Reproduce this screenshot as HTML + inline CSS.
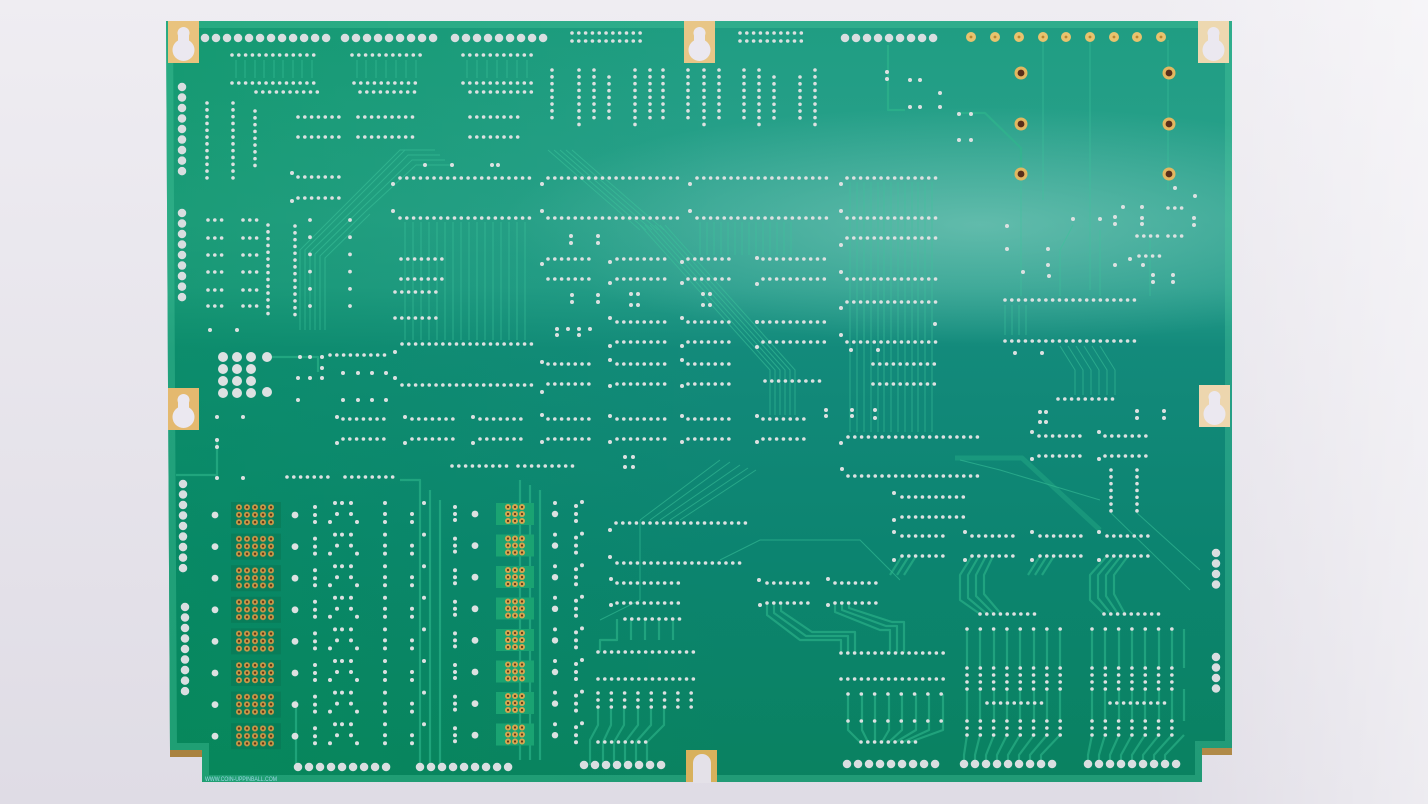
<!DOCTYPE html>
<html><head><meta charset="utf-8"><style>
html,body{margin:0;padding:0;background:#ebe9ef;}
svg{display:block}
.s{stroke:#dce1e1;stroke-width:3.6;stroke-linecap:round;stroke-dasharray:0.01 6.8;fill:none}
.m{stroke:#dce1e1;stroke-width:3.6;stroke-linecap:round;stroke-dasharray:0.01 13.3;fill:none}
.l{stroke:#dce1e1;stroke-width:3.8;stroke-linecap:round;stroke-dasharray:0.01 17.2;fill:none}
.c{stroke:#d9dee0;stroke-width:8.5;stroke-linecap:round;stroke-dasharray:0.01 11;fill:none}
.cv{stroke:#d9dee0;stroke-width:8.5;stroke-linecap:round;stroke-dasharray:0.01 10.5;fill:none}
</style></head><body>
<svg width="1428" height="804" viewBox="0 0 1428 804" xmlns="http://www.w3.org/2000/svg">
<defs>
<linearGradient id="bg" x1="0" y1="0" x2="0" y2="1"><stop offset="0" stop-color="#efedf2"/><stop offset="1" stop-color="#dfdce5"/></linearGradient>
<linearGradient id="bgr" gradientUnits="userSpaceOnUse" x1="1150" y1="0" x2="1428" y2="0"><stop offset="0" stop-color="#fff" stop-opacity="0"/><stop offset="1" stop-color="#fff" stop-opacity=".45"/></linearGradient>
<linearGradient id="bd" gradientUnits="userSpaceOnUse" x1="0" y1="21" x2="0" y2="782">
<stop offset="0" stop-color="#1f9d82"/><stop offset="0.26" stop-color="#2aa18d"/><stop offset="0.35" stop-color="#259c8a"/><stop offset="0.43" stop-color="#138a7b"/><stop offset="0.7" stop-color="#0c8470"/><stop offset="1" stop-color="#0a8260"/></linearGradient>
<radialGradient id="hl" gradientUnits="userSpaceOnUse" cx="980" cy="225" r="330" gradientTransform="translate(980 225) scale(1.45 0.36) translate(-980 -225)">
<stop offset="0" stop-color="#86cdc0" stop-opacity="0.6"/><stop offset="1" stop-color="#86cdc0" stop-opacity="0"/></radialGradient>
<linearGradient id="lg" gradientUnits="userSpaceOnUse" x1="166" y1="0" x2="720" y2="0"><stop offset="0" stop-color="#00924f" stop-opacity="0.35"/><stop offset="1" stop-color="#00924f" stop-opacity="0"/></linearGradient>
<path id="board" d="M166,21 H1232 V748 H1202 V782 H202 V750 H170 Z"/>
<clipPath id="cb"><use href="#board"/></clipPath>
<pattern id="gd" patternUnits="userSpaceOnUse" width="8" height="7.5"><circle cx="4" cy="3.75" r="3" fill="#c89848"/><circle cx="4" cy="3.75" r="1.2" fill="#5e3416"/></pattern>
<pattern id="gd2" patternUnits="userSpaceOnUse" width="7" height="7"><circle cx="3.5" cy="3.5" r="3" fill="#d6a650"/><circle cx="3.5" cy="3.5" r="1.1" fill="#5e3416"/></pattern>
<g id="blk" fill="#dce1e1">
<circle cx="215" cy="0" r="3.4"/><circle cx="295" cy="0" r="3.4"/><circle cx="475" cy="-1" r="3.4"/><circle cx="555" cy="-1" r="3.2"/>
<circle cx="315" cy="-8" r="2"/><circle cx="315" cy="0" r="2"/><circle cx="315" cy="7" r="2"/><circle cx="335" cy="-12" r="2"/><circle cx="342" cy="-12" r="2"/><circle cx="351" cy="-12" r="2"/><circle cx="337" cy="-1" r="2"/><circle cx="351" cy="-1" r="2"/><circle cx="330" cy="7" r="2"/><circle cx="357" cy="7" r="2"/><circle cx="385" cy="-12" r="2"/><circle cx="385" cy="-1" r="2"/><circle cx="385" cy="7" r="2"/><circle cx="412" cy="-1" r="2"/><circle cx="412" cy="7" r="2"/><circle cx="424" cy="-12" r="2"/><circle cx="455" cy="-8" r="2"/><circle cx="455" cy="-1" r="2"/><circle cx="455" cy="5" r="2"/><circle cx="555" cy="-12" r="2"/><circle cx="576" cy="-9" r="2"/><circle cx="576" cy="-1" r="2"/><circle cx="576" cy="6" r="2"/><circle cx="582" cy="-13" r="2"/>
</g>
</defs>

<rect width="1428" height="804" fill="url(#bg)"/>
<rect width="1428" height="804" fill="url(#bgr)"/>

<use href="#board" fill="url(#bd)"/>
<use href="#board" fill="url(#hl)"/>
<use href="#board" fill="url(#lg)"/>
<use href="#board" fill="none" stroke="#4ccaa0" stroke-opacity="0.35" stroke-width="14" clip-path="url(#cb)"/>
<rect x="170" y="750" width="32" height="7" fill="#a9823f"/>
<rect x="1202" y="748" width="30" height="7" fill="#b08a48"/>
<rect x="686" y="750" width="31" height="32" fill="#d8b15c"/>
<path d="M693,783 V763 A9,9 0 0 1 711,763 V783 Z" fill="#e4e1e8"/>

<g>
<rect x="168" y="21" width="31" height="42" fill="#e9c37e"/>
<rect x="684" y="21" width="31" height="42" fill="#e8c687"/>
<rect x="1198" y="21" width="31" height="42" fill="#edd8b0"/>
<rect x="168" y="388" width="31" height="42" fill="#e4b96f"/>
<rect x="1199" y="385" width="31" height="42" fill="#edd6ae"/>
</g>
<g fill="#ebe8f0">
<circle cx="183.5" cy="33" r="6"/><rect x="178" y="33" width="11" height="17"/><circle cx="183.5" cy="50" r="11"/>
<circle cx="699.5" cy="33" r="6"/><rect x="694" y="33" width="11" height="17"/><circle cx="699.5" cy="50" r="11"/>
<circle cx="1213.5" cy="33" r="6"/><rect x="1208" y="33" width="11" height="17"/><circle cx="1213.5" cy="50" r="11"/>
<circle cx="183.5" cy="400" r="6"/><rect x="178" y="400" width="11" height="17"/><circle cx="183.5" cy="417" r="11"/>
<circle cx="1214.5" cy="397" r="6"/><rect x="1209" y="397" width="11" height="17"/><circle cx="1214.5" cy="414" r="11"/>
</g>

<g fill="none" stroke="#3cc39a" stroke-opacity=".55" stroke-width="1">
<path d="M405 222V340M413 222V340M421 222V340M429 222V340M437 222V340M445 222V340M453 222V340M461 222V340M469 222V340M477 222V340M485 222V340M493 222V340M501 222V340M509 222V340M517 222V340M525 222V340"/>
<path d="M850 182V432M857 182V432M864 182V432M871 182V432M878 182V432M884 182V432M891 182V432M898 182V432M905 182V432M912 182V432M918 182V432M925 182V432M932 182V432"/>
<path d="M700 222V255M707 222V255M714 222V255M721 222V255M728 222V255M735 222V255M742 222V255M749 222V255M756 222V255M763 222V255M770 222V255M777 222V255M784 222V255M791 222V255"/>
<path d="M640 225L770 370V415M645 225L775 370V415M650 225L780 370V415M655 225L785 370V415M660 225L790 370V415M665 225L795 370V415"/>
<path d="M300 330V250L350 200L400 150H430M305 330V250L355 200L405 150H435M310 330V252L358 205L408 155H440M315 330V254L362 208L412 160H445M320 330V256L366 211L416 165H450M325 330V258L370 214"/>
<path d="M236 60V78M245 60V78M255 60V78M264 60V78M274 60V78M283 60V78M293 60V78M302 60V78M312 60V78M357 60V78M366 60V78M376 60V78M386 60V78M396 60V78M406 60V78M416 60V78M467 60V78M477 60V78M487 60V78M497 60V78M507 60V78M517 60V78M527 60V78"/>
<path d="M548 150L640 230M554 150L646 230M560 150L652 230M566 150L658 230M572 150L664 230"/>
<path d="M640 520L720 460M650 520L730 462M660 520L740 465M670 520L748 468M680 520L756 470M600 620L640 600V520M720 560L760 540H860L900 580"/>
<path d="M1005 305V335M1012 305V335M1019 305V335M1026 305V335M1060 346L1075 370V395M1068 346L1083 370V395M1076 346L1091 370V395M1084 346L1099 370V395M1092 346L1107 370V395M1100 346L1115 370V395"/>
<path d="M1021 180V296M1073 225L1060 250V296M1100 230V296M1150 240V296M1168 40V190M1090 40V290M1043 40V200"/>
<path d="M1137 513L1200 570M1111 513L1190 590M960 460L1000 470L1100 500"/>
</g>

<g fill="none" stroke="#2fb88c" stroke-opacity=".6" stroke-width="2.2" stroke-linejoin="round">
<path d="M217 440V475H176"/>
<path d="M270 357H318V372"/>
<path d="M888 45V110H905"/>
<path d="M959 113H985L1021 148V170"/>
<path d="M955 458H1022L1100 530" stroke-width="5" stroke-opacity=".35"/>
<path d="M967 629V668M980 629V668M994 629V668M1007 629V668M1020 629V668M1034 629V668M1047 629V668M1060 629V668"/>
<path d="M1092 629V668M1105 629V668M1119 629V668M1132 629V668M1145 629V668M1159 629V668M1172 629V668M1184 629V668"/>
<path d="M967 689V721M980 689V721M994 689V721M1007 689V721M1020 689V721M1034 689V721M1047 689V721M1060 689V721"/>
<path d="M1092 689V721M1105 689V721M1119 689V721M1132 689V721M1145 689V721M1159 689V721M1172 689V721M1184 689V721"/>
<path d="M967 735L964 755V764M980 735L975 755V764M994 735L986 755V764M1007 735L997 755V764M1020 735L1008 755V764M1034 735L1019 755V764M1047 735L1030 755V764M1060 735L1041 755V764"/>
<path d="M1092 735L1088 755V764M1105 735L1099 755V764M1119 735L1110 755V764M1132 735L1121 755V764M1145 735L1132 755V764M1159 735L1143 755V764M1172 735L1154 755V764M1184 735L1165 755V764"/>
<path d="M972 556L960 575V600L980 614M979 556L968 575V598L987 614M986 556L976 575V596L994 614M993 556L984 575V594L1001 614M1107 556L1090 575V600L1104 614M1114 556L1098 575V598L1111 614M1121 556L1106 575V596L1118 614M1128 556L1114 575V594L1125 614"/>
<path d="M902 556L890 575M909 556L897 575M916 556L904 575M1040 556L1028 575M1047 556L1035 575M1054 556L1042 575"/>
<path d="M767 603V615L800 640H841V653M774 603V613L806 636H848V653M781 603V611L812 632H855V653M835 603V612L880 630H890V653M842 603V610L886 626H897V653M849 603V608L892 622H904V653"/>
<path d="M848 694V730L860 742M862 694V730L868 742M875 694V730L875 742M889 694V730L882 742M902 694V730L889 742M916 694V730L896 742M929 694V730L903 742M943 694V730L910 742"/>
<path d="M598 707V725L590 740V765M611 707V725L603 742V765M624 707V725L614 742V765M638 707V725L625 742V765M651 707V725L636 742V765M664 707V725L647 742V765"/>
<path d="M617 619V640H600V652M631 619V640M645 619V640M659 619V640M673 619V640"/>
<path d="M296 770V700M420 770V480H400M430 770V490M440 770V500M520 480V760M530 485V760M540 490V760"/>
</g>

<g>
<rect x="231" y="502" width="50" height="26" fill="#0a7653" opacity=".6"/>
<rect x="231" y="533.6" width="50" height="26" fill="#0a7653" opacity=".6"/>
<rect x="231" y="565.2" width="50" height="26" fill="#0a7653" opacity=".6"/>
<rect x="231" y="596.8" width="50" height="26" fill="#0a7653" opacity=".6"/>
<rect x="231" y="628.4" width="50" height="26" fill="#0a7653" opacity=".6"/>
<rect x="231" y="660" width="50" height="26" fill="#0a7653" opacity=".6"/>
<rect x="231" y="691.6" width="50" height="26" fill="#0a7653" opacity=".6"/>
<rect x="231" y="723.2" width="50" height="26" fill="#0a7653" opacity=".6"/>
<rect transform="translate(235 503.5)" width="40" height="22.5" fill="url(#gd)"/>
<rect transform="translate(235 535.1)" width="40" height="22.5" fill="url(#gd)"/>
<rect transform="translate(235 566.7)" width="40" height="22.5" fill="url(#gd)"/>
<rect transform="translate(235 598.3)" width="40" height="22.5" fill="url(#gd)"/>
<rect transform="translate(235 629.9)" width="40" height="22.5" fill="url(#gd)"/>
<rect transform="translate(235 661.5)" width="40" height="22.5" fill="url(#gd)"/>
<rect transform="translate(235 693.1)" width="40" height="22.5" fill="url(#gd)"/>
<rect transform="translate(235 724.7)" width="40" height="22.5" fill="url(#gd)"/>
</g>
<g>
<rect x="496" y="503" width="38" height="22" fill="#1aa372"/>
<rect x="496" y="534.5" width="38" height="22" fill="#1aa372"/>
<rect x="496" y="566" width="38" height="22" fill="#1aa372"/>
<rect x="496" y="597.5" width="38" height="22" fill="#1aa372"/>
<rect x="496" y="629" width="38" height="22" fill="#1aa372"/>
<rect x="496" y="660.5" width="38" height="22" fill="#1aa372"/>
<rect x="496" y="692" width="38" height="22" fill="#1aa372"/>
<rect x="496" y="723.5" width="38" height="22" fill="#1aa372"/>
<rect transform="translate(504.5 503.5)" width="21" height="21" fill="url(#gd2)"/>
<rect transform="translate(504.5 535)" width="21" height="21" fill="url(#gd2)"/>
<rect transform="translate(504.5 566.5)" width="21" height="21" fill="url(#gd2)"/>
<rect transform="translate(504.5 598)" width="21" height="21" fill="url(#gd2)"/>
<rect transform="translate(504.5 629.5)" width="21" height="21" fill="url(#gd2)"/>
<rect transform="translate(504.5 661)" width="21" height="21" fill="url(#gd2)"/>
<rect transform="translate(504.5 692.5)" width="21" height="21" fill="url(#gd2)"/>
<rect transform="translate(504.5 724)" width="21" height="21" fill="url(#gd2)"/>
</g>

<g>
<g fill="#e8c36e"><circle cx="971" cy="37" r="5"/><circle cx="995" cy="37" r="5"/><circle cx="1019" cy="37" r="5"/><circle cx="1043" cy="37" r="5"/><circle cx="1066" cy="37" r="5"/><circle cx="1090" cy="37" r="5"/><circle cx="1114" cy="37" r="5"/><circle cx="1137" cy="37" r="5"/><circle cx="1161" cy="37" r="5"/></g>
<g fill="#b8862e"><circle cx="971" cy="37" r="1.4"/><circle cx="995" cy="37" r="1.4"/><circle cx="1019" cy="37" r="1.4"/><circle cx="1043" cy="37" r="1.4"/><circle cx="1066" cy="37" r="1.4"/><circle cx="1090" cy="37" r="1.4"/><circle cx="1114" cy="37" r="1.4"/><circle cx="1137" cy="37" r="1.4"/><circle cx="1161" cy="37" r="1.4"/></g>
<g fill="#e2b760"><circle cx="1021" cy="73" r="6.5"/><circle cx="1021" cy="124" r="6.5"/><circle cx="1021" cy="174" r="6.5"/><circle cx="1169" cy="73" r="6.5"/><circle cx="1169" cy="124" r="6.5"/><circle cx="1169" cy="174" r="6.5"/></g>
<g fill="#5a2e1a"><circle cx="1021" cy="73" r="3.4"/><circle cx="1021" cy="124" r="3.4"/><circle cx="1021" cy="174" r="3.4"/><circle cx="1169" cy="73" r="3.4"/><circle cx="1169" cy="124" r="3.4"/><circle cx="1169" cy="174" r="3.4"/></g>
</g>

<g fill="#dde1e2">
<circle cx="223" cy="357" r="5"/><circle cx="237" cy="357" r="5"/><circle cx="251" cy="357" r="5"/><circle cx="267" cy="357" r="5"/>
<circle cx="223" cy="369" r="5"/><circle cx="237" cy="369" r="5"/><circle cx="251" cy="369" r="5"/>
<circle cx="223" cy="381" r="5"/><circle cx="237" cy="381" r="5"/><circle cx="251" cy="381" r="5"/>
<circle cx="223" cy="393" r="5"/><circle cx="237" cy="393" r="5"/><circle cx="251" cy="393" r="5"/><circle cx="267" cy="392" r="5"/>
</g>

<use href="#blk" transform="translate(0 515)"/>
<use href="#blk" transform="translate(0 546.6)"/>
<use href="#blk" transform="translate(0 578.2)"/>
<use href="#blk" transform="translate(0 609.8)"/>
<use href="#blk" transform="translate(0 641.4)"/>
<use href="#blk" transform="translate(0 673)"/>
<use href="#blk" transform="translate(0 704.6)"/>
<use href="#blk" transform="translate(0 736.2)"/>

<g>
<line class="s" x1="572" y1="33" x2="644" y2="33"/><line class="s" x1="572" y1="41" x2="644" y2="41"/>
<line class="s" x1="740" y1="33" x2="804" y2="33"/><line class="s" x1="740" y1="41" x2="804" y2="41"/>
<line class="s" x1="232" y1="55" x2="319" y2="55"/><line class="s" x1="352" y1="55" x2="421" y2="55"/><line class="s" x1="463" y1="55" x2="532" y2="55"/>
<line class="s" x1="232" y1="83" x2="319" y2="83"/><line class="s" x1="354" y1="83" x2="421" y2="83"/><line class="s" x1="463" y1="83" x2="532" y2="83"/>
<line class="s" x1="256" y1="92" x2="319" y2="92"/><line class="s" x1="360" y1="92" x2="421" y2="92"/><line class="s" x1="470" y1="92" x2="532" y2="92"/>
<line class="s" x1="298" y1="117" x2="343" y2="117"/><line class="s" x1="358" y1="117" x2="413" y2="117"/><line class="s" x1="470" y1="117" x2="522" y2="117"/>
<line class="s" x1="298" y1="137" x2="343" y2="137"/><line class="s" x1="358" y1="137" x2="413" y2="137"/><line class="s" x1="470" y1="137" x2="522" y2="137"/>
<line class="s" x1="298" y1="177" x2="343" y2="177"/><line class="s" x1="298" y1="198" x2="343" y2="198"/>
<line class="s" x1="400" y1="178" x2="532" y2="178"/><line class="s" x1="548" y1="178" x2="679" y2="178"/><line class="s" x1="697" y1="178" x2="829" y2="178"/><line class="s" x1="847" y1="178" x2="938" y2="178"/>
<line class="s" x1="400" y1="218" x2="532" y2="218"/><line class="s" x1="548" y1="218" x2="679" y2="218"/><line class="s" x1="697" y1="218" x2="829" y2="218"/><line class="s" x1="847" y1="218" x2="938" y2="218"/>
<line class="s" x1="847" y1="238" x2="938" y2="238"/>
<line class="s" x1="401" y1="259" x2="445" y2="259"/><line class="s" x1="548" y1="259" x2="593" y2="259"/><line class="s" x1="617" y1="259" x2="668" y2="259"/><line class="s" x1="688" y1="259" x2="733" y2="259"/><line class="s" x1="763" y1="259" x2="828" y2="259"/>
<line class="s" x1="401" y1="279" x2="445" y2="279"/><line class="s" x1="548" y1="279" x2="593" y2="279"/><line class="s" x1="617" y1="279" x2="668" y2="279"/><line class="s" x1="688" y1="279" x2="733" y2="279"/><line class="s" x1="763" y1="279" x2="828" y2="279"/><line class="s" x1="847" y1="279" x2="938" y2="279"/>
<line class="s" x1="395" y1="292" x2="437" y2="292"/><line class="s" x1="395" y1="318" x2="437" y2="318"/>
<line class="s" x1="847" y1="302" x2="938" y2="302"/>
<line class="s" x1="617" y1="322" x2="668" y2="322"/><line class="s" x1="688" y1="322" x2="733" y2="322"/><line class="s" x1="763" y1="322" x2="828" y2="322"/>
<line class="s" x1="617" y1="342" x2="668" y2="342"/><line class="s" x1="688" y1="342" x2="733" y2="342"/><line class="s" x1="763" y1="342" x2="828" y2="342"/><line class="s" x1="847" y1="342" x2="938" y2="342"/>
<line class="s" x1="402" y1="344" x2="533" y2="344"/>
<line class="s" x1="330" y1="355" x2="391" y2="355"/>
<line class="s" x1="548" y1="364" x2="593" y2="364"/><line class="s" x1="617" y1="364" x2="668" y2="364"/><line class="s" x1="688" y1="364" x2="733" y2="364"/><line class="s" x1="873" y1="364" x2="938" y2="364"/>
<line class="s" x1="548" y1="384" x2="593" y2="384"/><line class="s" x1="617" y1="384" x2="668" y2="384"/><line class="s" x1="688" y1="384" x2="733" y2="384"/><line class="s" x1="873" y1="384" x2="938" y2="384"/><line class="s" x1="402" y1="385" x2="533" y2="385"/><line class="s" x1="765" y1="381" x2="823" y2="381"/>
<line class="s" x1="343" y1="419" x2="389" y2="419"/><line class="s" x1="412" y1="419" x2="458" y2="419"/><line class="s" x1="480" y1="419" x2="526" y2="419"/><line class="s" x1="548" y1="419" x2="593" y2="419"/><line class="s" x1="617" y1="419" x2="668" y2="419"/><line class="s" x1="688" y1="419" x2="733" y2="419"/><line class="s" x1="763" y1="419" x2="808" y2="419"/>
<line class="s" x1="343" y1="439" x2="389" y2="439"/><line class="s" x1="412" y1="439" x2="458" y2="439"/><line class="s" x1="480" y1="439" x2="526" y2="439"/><line class="s" x1="548" y1="439" x2="593" y2="439"/><line class="s" x1="617" y1="439" x2="668" y2="439"/><line class="s" x1="688" y1="439" x2="733" y2="439"/><line class="s" x1="763" y1="439" x2="808" y2="439"/>
<line class="s" x1="848" y1="437" x2="978" y2="437"/><line class="s" x1="848" y1="476" x2="978" y2="476"/>
<line class="s" x1="452" y1="466" x2="511" y2="466"/><line class="s" x1="518" y1="466" x2="576" y2="466"/>
<line class="s" x1="287" y1="477" x2="333" y2="477"/><line class="s" x1="345" y1="477" x2="399" y2="477"/>
<line class="s" x1="902" y1="497" x2="964" y2="497"/><line class="s" x1="902" y1="517" x2="964" y2="517"/>
<line class="s" x1="616" y1="523" x2="746" y2="523"/><line class="s" x1="617" y1="563" x2="746" y2="563"/>
<line class="s" x1="902" y1="536" x2="946" y2="536"/><line class="s" x1="972" y1="536" x2="1014" y2="536"/><line class="s" x1="1040" y1="536" x2="1083" y2="536"/><line class="s" x1="1107" y1="536" x2="1149" y2="536"/>
<line class="s" x1="902" y1="556" x2="946" y2="556"/><line class="s" x1="972" y1="556" x2="1014" y2="556"/><line class="s" x1="1040" y1="556" x2="1083" y2="556"/><line class="s" x1="1107" y1="556" x2="1149" y2="556"/>
<line class="s" x1="617" y1="583" x2="681" y2="583"/><line class="s" x1="767" y1="583" x2="809" y2="583"/><line class="s" x1="835" y1="583" x2="878" y2="583"/>
<line class="s" x1="617" y1="603" x2="681" y2="603"/><line class="s" x1="767" y1="603" x2="809" y2="603"/><line class="s" x1="835" y1="603" x2="878" y2="603"/>
<line class="s" x1="625" y1="619" x2="681" y2="619"/>
<line class="s" x1="1005" y1="300" x2="1136" y2="300"/><line class="s" x1="1005" y1="341" x2="1136" y2="341"/>
<line class="s" x1="1058" y1="399" x2="1116" y2="399"/>
<line class="s" x1="1039" y1="436" x2="1084" y2="436"/><line class="s" x1="1105" y1="436" x2="1149" y2="436"/>
<line class="s" x1="1039" y1="456" x2="1084" y2="456"/><line class="s" x1="1105" y1="456" x2="1149" y2="456"/>
<line class="s" x1="980" y1="614" x2="1036" y2="614"/><line class="s" x1="1104" y1="614" x2="1160" y2="614"/>
<line class="s" x1="598" y1="652" x2="697" y2="652"/><line class="s" x1="598" y1="679" x2="697" y2="679"/>
<line class="s" x1="841" y1="653" x2="944" y2="653"/><line class="s" x1="841" y1="679" x2="944" y2="679"/>
<line class="s" x1="861" y1="742" x2="917" y2="742"/><line class="s" x1="598" y1="742" x2="651" y2="742"/>
<line class="s" x1="987" y1="703" x2="1044" y2="703"/><line class="s" x1="1110" y1="703" x2="1166" y2="703"/>
<line class="s" x1="1137" y1="236" x2="1161" y2="236"/><line class="s" x1="1168" y1="236" x2="1186" y2="236"/><line class="s" x1="1139" y1="256" x2="1161" y2="256"/><line class="s" x1="1168" y1="208" x2="1186" y2="208"/>
<line class="s" x1="208" y1="220" x2="223" y2="220"/><line class="s" x1="208" y1="238" x2="223" y2="238"/><line class="s" x1="208" y1="255" x2="223" y2="255"/><line class="s" x1="208" y1="272" x2="223" y2="272"/><line class="s" x1="208" y1="290" x2="223" y2="290"/><line class="s" x1="208" y1="306" x2="223" y2="306"/>
<line class="s" x1="243" y1="220" x2="258" y2="220"/><line class="s" x1="243" y1="238" x2="258" y2="238"/><line class="s" x1="243" y1="255" x2="258" y2="255"/><line class="s" x1="243" y1="272" x2="258" y2="272"/><line class="s" x1="243" y1="290" x2="258" y2="290"/><line class="s" x1="243" y1="306" x2="258" y2="306"/>
</g>

<g>
<line class="s" x1="207" y1="103" x2="207" y2="178"/><line class="s" x1="233" y1="103" x2="233" y2="179"/><line class="s" x1="255" y1="111" x2="255" y2="166"/>
<line class="s" x1="268" y1="225" x2="268" y2="319"/><line class="s" x1="295" y1="226" x2="295" y2="321"/>
<line class="s" x1="552" y1="70" x2="552" y2="119"/><line class="s" x1="579" y1="70" x2="579" y2="126"/><line class="s" x1="594" y1="70" x2="594" y2="119"/><line class="s" x1="609" y1="77" x2="609" y2="119"/><line class="s" x1="635" y1="70" x2="635" y2="126"/><line class="s" x1="650" y1="70" x2="650" y2="119"/><line class="s" x1="663" y1="70" x2="663" y2="119"/><line class="s" x1="688" y1="70" x2="688" y2="119"/><line class="s" x1="704" y1="70" x2="704" y2="126"/><line class="s" x1="719" y1="70" x2="719" y2="119"/><line class="s" x1="744" y1="70" x2="744" y2="119"/><line class="s" x1="759" y1="70" x2="759" y2="126"/><line class="s" x1="774" y1="77" x2="774" y2="119"/><line class="s" x1="800" y1="77" x2="800" y2="119"/><line class="s" x1="815" y1="70" x2="815" y2="126"/>
<line class="s" x1="1111" y1="470" x2="1111" y2="511"/><line class="s" x1="1137" y1="470" x2="1137" y2="511"/>
<line class="l" x1="310" y1="220" x2="310" y2="308"/><line class="l" x1="350" y1="220" x2="350" y2="308"/>
</g>

<g>
<line class="m" x1="967" y1="629" x2="1061" y2="629"/><line class="m" x1="1092" y1="629" x2="1185" y2="629"/>
<line class="m" x1="967" y1="668" x2="1061" y2="668"/><line class="m" x1="1092" y1="668" x2="1185" y2="668"/>
<line class="m" x1="967" y1="675" x2="1061" y2="675"/><line class="m" x1="1092" y1="675" x2="1185" y2="675"/>
<line class="m" x1="967" y1="682" x2="1061" y2="682"/><line class="m" x1="1092" y1="682" x2="1185" y2="682"/>
<line class="m" x1="967" y1="689" x2="1061" y2="689"/><line class="m" x1="1092" y1="689" x2="1185" y2="689"/>
<line class="m" x1="967" y1="721" x2="1061" y2="721"/><line class="m" x1="1092" y1="721" x2="1185" y2="721"/>
<line class="m" x1="967" y1="728" x2="1061" y2="728"/><line class="m" x1="1092" y1="728" x2="1185" y2="728"/>
<line class="m" x1="967" y1="735" x2="1061" y2="735"/><line class="m" x1="1092" y1="735" x2="1185" y2="735"/>
<line class="m" x1="848" y1="694" x2="944" y2="694"/><line class="m" x1="848" y1="721" x2="944" y2="721"/>
<line class="m" x1="598" y1="693" x2="697" y2="693"/><line class="m" x1="598" y1="700" x2="697" y2="700"/><line class="m" x1="598" y1="707" x2="697" y2="707"/>
</g>

<g>
<line class="c" x1="205" y1="38" x2="327" y2="38"/><line class="c" x1="345" y1="38" x2="434" y2="38"/><line class="c" x1="455" y1="38" x2="544" y2="38"/><line class="c" x1="845" y1="38" x2="934" y2="38"/>
<line class="c" x1="298" y1="767" x2="387" y2="767"/><line class="c" x1="420" y1="767" x2="509" y2="767"/><line class="c" x1="584" y1="765" x2="662" y2="765"/>
<line class="c" x1="847" y1="764" x2="936" y2="764"/><line class="c" x1="964" y1="764" x2="1053" y2="764"/><line class="c" x1="1088" y1="764" x2="1177" y2="764"/>
<line class="cv" x1="182" y1="87" x2="182" y2="172"/><line class="cv" x1="182" y1="213" x2="182" y2="298"/><line class="cv" x1="183" y1="484" x2="183" y2="569"/><line class="cv" x1="185" y1="607" x2="185" y2="692"/>
<line class="cv" x1="1216" y1="553" x2="1216" y2="586"/><line class="cv" x1="1216" y1="657" x2="1216" y2="690"/>
</g>

<g fill="#dce1e1">
<circle cx="292" cy="173" r="2"/><circle cx="292" cy="201" r="2"/><circle cx="393" cy="184" r="2"/><circle cx="393" cy="211" r="2"/><circle cx="542" cy="184" r="2"/><circle cx="542" cy="211" r="2"/><circle cx="690" cy="184" r="2"/><circle cx="690" cy="211" r="2"/><circle cx="841" cy="184" r="2"/><circle cx="841" cy="211" r="2"/><circle cx="841" cy="245" r="2"/><circle cx="841" cy="272" r="2"/><circle cx="841" cy="308" r="2"/><circle cx="841" cy="335" r="2"/>
<circle cx="542" cy="264" r="2"/><circle cx="542" cy="392" r="2"/><circle cx="610" cy="262" r="2"/><circle cx="610" cy="283" r="2"/><circle cx="682" cy="262" r="2"/><circle cx="682" cy="283" r="2"/><circle cx="757" cy="258" r="2"/><circle cx="757" cy="284" r="2"/>
<circle cx="571" cy="236" r="2"/><circle cx="571" cy="243" r="2"/><circle cx="598" cy="236" r="2"/><circle cx="598" cy="243" r="2"/><circle cx="572" cy="295" r="2"/><circle cx="572" cy="302" r="2"/><circle cx="598" cy="295" r="2"/><circle cx="598" cy="302" r="2"/>
<circle cx="631" cy="294" r="2"/><circle cx="638" cy="294" r="2"/><circle cx="631" cy="305" r="2"/><circle cx="638" cy="305" r="2"/><circle cx="703" cy="294" r="2"/><circle cx="710" cy="294" r="2"/><circle cx="703" cy="305" r="2"/><circle cx="710" cy="305" r="2"/>
<circle cx="557" cy="329" r="2"/><circle cx="568" cy="329" r="2"/><circle cx="579" cy="329" r="2"/><circle cx="590" cy="329" r="2"/><circle cx="557" cy="335" r="2"/><circle cx="579" cy="335" r="2"/>
<circle cx="610" cy="318" r="2"/><circle cx="610" cy="346" r="2"/><circle cx="682" cy="318" r="2"/><circle cx="682" cy="346" r="2"/><circle cx="757" cy="322" r="2"/><circle cx="757" cy="347" r="2"/>
<circle cx="542" cy="362" r="2"/><circle cx="610" cy="360" r="2"/><circle cx="682" cy="360" r="2"/><circle cx="610" cy="386" r="2"/><circle cx="682" cy="386" r="2"/>
<circle cx="542" cy="415" r="2"/><circle cx="610" cy="416" r="2"/><circle cx="682" cy="416" r="2"/><circle cx="757" cy="416" r="2"/><circle cx="542" cy="442" r="2"/><circle cx="610" cy="442" r="2"/><circle cx="682" cy="442" r="2"/><circle cx="757" cy="442" r="2"/>
<circle cx="337" cy="417" r="2"/><circle cx="405" cy="417" r="2"/><circle cx="473" cy="417" r="2"/><circle cx="337" cy="443" r="2"/><circle cx="405" cy="443" r="2"/><circle cx="473" cy="443" r="2"/>
<circle cx="395" cy="352" r="2"/><circle cx="395" cy="378" r="2"/><circle cx="851" cy="350" r="2"/><circle cx="878" cy="350" r="2"/><circle cx="935" cy="324" r="2"/>
<circle cx="826" cy="410" r="2"/><circle cx="826" cy="416" r="2"/><circle cx="852" cy="410" r="2"/><circle cx="852" cy="416" r="2"/><circle cx="875" cy="410" r="2"/><circle cx="875" cy="418" r="2"/>
<circle cx="625" cy="457" r="2"/><circle cx="633" cy="457" r="2"/><circle cx="625" cy="467" r="2"/><circle cx="633" cy="467" r="2"/>
<circle cx="842" cy="469" r="2"/><circle cx="841" cy="443" r="2"/><circle cx="894" cy="493" r="2"/><circle cx="894" cy="520" r="2"/>
<circle cx="894" cy="532" r="2"/><circle cx="894" cy="560" r="2"/><circle cx="965" cy="532" r="2"/><circle cx="965" cy="560" r="2"/><circle cx="1032" cy="532" r="2"/><circle cx="1032" cy="560" r="2"/><circle cx="1099" cy="532" r="2"/><circle cx="1099" cy="560" r="2"/>
<circle cx="1032" cy="432" r="2"/><circle cx="1099" cy="432" r="2"/><circle cx="1032" cy="459" r="2"/><circle cx="1099" cy="459" r="2"/>
<circle cx="1015" cy="353" r="2"/><circle cx="1042" cy="353" r="2"/><circle cx="1040" cy="412" r="2"/><circle cx="1046" cy="412" r="2"/><circle cx="1040" cy="422" r="2"/><circle cx="1046" cy="422" r="2"/>
<circle cx="1137" cy="411" r="2"/><circle cx="1137" cy="418" r="2"/><circle cx="1164" cy="411" r="2"/><circle cx="1164" cy="418" r="2"/>
<circle cx="610" cy="530" r="2"/><circle cx="610" cy="557" r="2"/><circle cx="611" cy="579" r="2"/><circle cx="611" cy="605" r="2"/><circle cx="759" cy="580" r="2"/><circle cx="828" cy="579" r="2"/><circle cx="760" cy="605" r="2"/><circle cx="828" cy="605" r="2"/>
<circle cx="1123" cy="207" r="2"/><circle cx="1142" cy="207" r="2"/><circle cx="1073" cy="219" r="2"/><circle cx="1100" cy="219" r="2"/><circle cx="1115" cy="217" r="2"/><circle cx="1115" cy="224" r="2"/><circle cx="1142" cy="218" r="2"/><circle cx="1142" cy="224" r="2"/><circle cx="1194" cy="218" r="2"/><circle cx="1194" cy="225" r="2"/>
<circle cx="1130" cy="259" r="2"/><circle cx="1143" cy="265" r="2"/><circle cx="1115" cy="265" r="2"/><circle cx="1048" cy="265" r="2"/><circle cx="1007" cy="226" r="2"/><circle cx="1007" cy="249" r="2"/><circle cx="1048" cy="249" r="2"/><circle cx="1023" cy="272" r="2"/><circle cx="1049" cy="276" r="2"/>
<circle cx="1153" cy="275" r="2"/><circle cx="1153" cy="282" r="2"/><circle cx="1173" cy="275" r="2"/><circle cx="1173" cy="282" r="2"/><circle cx="1175" cy="188" r="2"/><circle cx="1195" cy="196" r="2"/>
<circle cx="887" cy="72" r="2"/><circle cx="887" cy="79" r="2"/><circle cx="910" cy="80" r="2"/><circle cx="920" cy="80" r="2"/><circle cx="940" cy="93" r="2"/><circle cx="910" cy="107" r="2"/><circle cx="920" cy="107" r="2"/><circle cx="940" cy="107" r="2"/>
<circle cx="959" cy="114" r="2"/><circle cx="971" cy="114" r="2"/><circle cx="959" cy="140" r="2"/><circle cx="971" cy="140" r="2"/>
<circle cx="425" cy="165" r="2"/><circle cx="452" cy="165" r="2"/><circle cx="492" cy="165" r="2"/><circle cx="498" cy="165" r="2"/>
<circle cx="210" cy="330" r="2"/><circle cx="237" cy="330" r="2"/><circle cx="217" cy="417" r="2"/><circle cx="243" cy="417" r="2"/><circle cx="217" cy="440" r="2"/><circle cx="217" cy="447" r="2"/><circle cx="217" cy="478" r="2"/><circle cx="243" cy="478" r="2"/>
<circle cx="300" cy="357" r="2"/><circle cx="310" cy="357" r="2"/><circle cx="298" cy="378" r="2"/><circle cx="310" cy="378" r="2"/><circle cx="322" cy="357" r="2"/><circle cx="322" cy="368" r="2"/><circle cx="322" cy="378" r="2"/><circle cx="298" cy="400" r="2"/>
<circle cx="343" cy="373" r="2"/><circle cx="358" cy="373" r="2"/><circle cx="372" cy="373" r="2"/><circle cx="386" cy="373" r="2"/><circle cx="343" cy="400" r="2"/><circle cx="358" cy="400" r="2"/><circle cx="372" cy="400" r="2"/><circle cx="386" cy="400" r="2"/>
</g>

<text x="205" y="781" font-family="Liberation Sans, sans-serif" font-size="6.5" fill="#9fd8e6" textLength="72" lengthAdjust="spacingAndGlyphs">WWW.COIN-UPPINBALL.COM</text>
</svg>
</body></html>
